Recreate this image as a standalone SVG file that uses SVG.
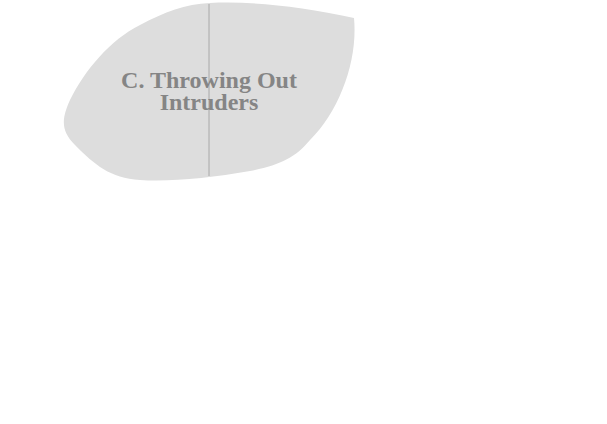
<svg xmlns="http://www.w3.org/2000/svg" width="607" height="424" viewBox="0 0 607 424">
<style>
.blob{fill:#dddddd;stroke:none}
.lbl{font-family:"Liberation Serif","Times New Roman",serif;font-weight:bold;font-size:24px;fill:#858585;text-anchor:middle}
.div{stroke:#a8a8a8;stroke-width:1;fill:none}
</style>
<rect width="607" height="424" fill="#ffffff"/>
<g id="region-c">
<path class="blob" d="M210,3 C250,1 300,6 354,18 C358,60 340,110 310,140 C295,158 280,165 250,171 C210,178 170,182 140,180 C110,178 95,165 75,145 C60,130 62,118 70,100 C85,70 110,40 140,25 C165,12 185,4 210,3 Z"/>
<line class="div" x1="209" y1="4" x2="209" y2="176"/>
<text class="lbl" x="209" y="88">C. Throwing Out</text>
<text class="lbl" x="209" y="110">Intruders</text>
</g>
<g id="connectors"></g>
</svg>
